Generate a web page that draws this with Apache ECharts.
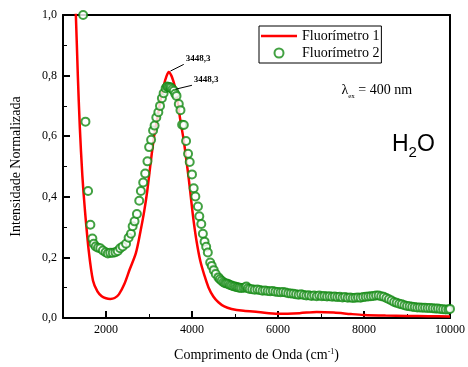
<!DOCTYPE html>
<html><head><meta charset="utf-8">
<script src="https://cdn.jsdelivr.net/npm/echarts@6/dist/echarts.min.js"></script>
<style>html,body{margin:0;padding:0;background:#fff}#c{width:468px;height:367px}</style>
</head><body><div id="c"></div>
<script>
// ---- data ----
const seriesNames = ['Fluorímetro 1', 'Fluorímetro 2'];
const redX = [1260,1299,1345,1391,1450,1506,1600,1698,1800,1900,2000,2100,2200,2300,2427,2550,2696,2800,2888,2960,3041,3118,3194,3270,3348,3400,3460,3520,3570,3617,3680,3732,3808,3870,3924,3980,4039,4110,4192,4290,4384,4500,4614,4750,4920,5200,5535,6000,6500,6900,7300,7700,8000,8500,9000,9500,10000];
const redY = [1.12,1.0,0.8,0.63,0.47,0.363,0.22,0.123,0.088,0.072,0.065,0.063,0.066,0.078,0.112,0.16,0.215,0.285,0.352,0.42,0.515,0.6,0.66,0.72,0.77,0.795,0.812,0.8,0.78,0.755,0.7,0.65,0.586,0.52,0.46,0.39,0.319,0.25,0.189,0.14,0.101,0.07,0.052,0.038,0.03,0.024,0.02,0.014,0.016,0.02,0.018,0.013,0.01,0.008,0.007,0.006,0.005];
const greenX = [1468,1522,1583,1637,1683,1714,1760,1813,1867,1928,1990,2043,2098,2158,2220,2273,2328,2388,2466,2526,2581,2620,2664,2719,2773,2811,2865,2911,2964,3003,3049,3095,3130,3170,3217,3256,3300,3340,3387,3420,3447,3480,3509,3545,3578,3610,3640,3693,3732,3770,3810,3862,3908,3947,4000,4039,4078,4138,4170,4216,4253,4292,4330,4368,4423,4460,4506,4552,4614,4650,4690,4730,4768,4805,4844,4880,4920,4960,4999,5040,5075,5110,5151,5200,5240,5266,5300,5343,5400,5459,5520,5580,5640,5700,5760,5820,5880,5940,6000,6060,6120,6180,6240,6300,6360,6420,6480,6540,6600,6660,6720,6780,6840,6900,6960,7020,7080,7140,7200,7260,7320,7380,7440,7500,7560,7620,7680,7740,7800,7860,7920,7980,8040,8100,8160,8220,8280,8340,8400,8460,8520,8580,8640,8700,8760,8820,8880,8940,9000,9060,9120,9180,9240,9300,9360,9420,9480,9540,9600,9660,9720,9780,9840,9900,9960,10000];
const greenY = [1.0,0.648,0.419,0.308,0.262,0.245,0.236,0.232,0.23,0.223,0.217,0.213,0.215,0.215,0.217,0.221,0.23,0.236,0.245,0.265,0.278,0.303,0.319,0.343,0.387,0.419,0.447,0.477,0.517,0.564,0.588,0.619,0.635,0.662,0.679,0.70,0.725,0.742,0.758,0.764,0.762,0.762,0.76,0.755,0.75,0.74,0.733,0.706,0.686,0.638,0.637,0.584,0.542,0.515,0.474,0.428,0.401,0.368,0.336,0.31,0.278,0.252,0.235,0.216,0.183,0.172,0.158,0.145,0.134,0.128,0.123,0.118,0.115,0.114,0.112,0.109,0.107,0.105,0.104,0.102,0.101,0.1,0.099,0.1,0.101,0.104,0.098,0.096,0.095,0.093,0.094,0.092,0.090,0.091,0.089,0.088,0.089,0.087,0.086,0.085,0.086,0.084,0.082,0.081,0.08,0.078,0.077,0.078,0.076,0.074,0.075,0.073,0.074,0.072,0.074,0.072,0.073,0.071,0.072,0.070,0.071,0.069,0.07,0.068,0.069,0.067,0.068,0.066,0.067,0.068,0.067,0.069,0.07,0.071,0.072,0.073,0.074,0.074,0.072,0.07,0.066,0.062,0.058,0.053,0.05,0.047,0.045,0.042,0.04,0.039,0.037,0.036,0.035,0.035,0.034,0.034,0.033,0.033,0.032,0.031,0.031,0.03,0.029,0.028,0.028,0.03];
const xMajorTicks = [2000,4000,6000,8000,10000];
const xMinorTicks = [3000,5000,7000,9000];
const peakText = '3448,3';
// annotation anchors in data units
const lead1 = [[3499,0.815],[3808,0.837]];
const lead2 = [[3617,0.755],[3999,0.768]];
const label1At = [3854,0.856];
const label2At = [4039,0.786];
const lambdaAt = [8297,0.748];
const waterAt = [9149,0.565];

const SERIF = 'Liberation Serif';
const SANS = 'Liberation Sans';
const pair = (xs, ys) => xs.map((x,i)=>[x, ys[i]]);

const chart = echarts.init(document.getElementById('c'), null, {renderer:'canvas'});
const frameAxis = {show:true, axisLine:{show:true, lineStyle:{color:'#000', width:2}}, axisTick:{show:false}, axisLabel:{show:false}, splitLine:{show:false}};
chart.setOption({
  animation:false,
  backgroundColor:'#fff',
  grid:{left:63, top:15, right:14, bottom:46},
  legend:{
    orient:'vertical', left:259, top:26, padding:[3,2,3,2], itemGap:3,
    borderColor:'#000', borderWidth:1, itemWidth:36, itemHeight:9,
    textStyle:{fontFamily:SERIF, fontSize:14, color:'#000'},
    data:[{name:seriesNames[0], icon:'path://M0,0L36,0L36,2.5L0,2.5Z', itemStyle:{color:'#ff0000'}},
          {name:seriesNames[1], icon:'emptyCircle'}]
  },
  xAxis:[
    {type:'value', position:'bottom', min:1000, max:10000, interval:1000,
     name:'Comprimento de Onda (cm{sup|-1})', nameLocation:'middle', nameGap:30,
     nameTextStyle:{fontFamily:SERIF, fontSize:14, color:'#000', verticalAlign:'top',
       rich:{sup:{fontFamily:SERIF, fontSize:8, verticalAlign:'top', padding:[0,0,6,0]}}},
     axisLine:{lineStyle:{color:'#000', width:2}},
     axisTick:{inside:true, length:7, lineStyle:{width:2, color:'#000'}, customValues:xMajorTicks},
     axisLabel:{fontFamily:SERIF, fontSize:12, color:'#000', margin:6, customValues:xMajorTicks,
       formatter:v=>String(v)},
     splitLine:{show:false}},
    {type:'value', position:'bottom', min:1000, max:10000, interval:1000,
     axisLine:{show:false},
     axisTick:{inside:true, length:4, lineStyle:{width:1, color:'#000'}, customValues:xMinorTicks},
     axisLabel:{show:false}, splitLine:{show:false}},
    Object.assign({type:'value', position:'top', min:1000, max:10000}, frameAxis)
  ],
  yAxis:[
    {type:'value', position:'left', min:0, max:1, interval:0.2,
     name:'Intensidade Normalizada', nameLocation:'middle', nameGap:40,
     nameTextStyle:{fontFamily:SERIF, fontSize:14, color:'#000'},
     axisLine:{show:true, lineStyle:{color:'#000', width:2}},
     axisTick:{show:true, inside:true, length:7, lineStyle:{width:2, color:'#000'}},
     minorTick:{show:true, splitNumber:2, length:4, lineStyle:{width:1, color:'#000'}},
     axisLabel:{fontFamily:SERIF, fontSize:12, color:'#000', margin:6,
       formatter:v=>v.toFixed(1).replace('.', ',')},
     splitLine:{show:false}},
    Object.assign({type:'value', position:'right', min:0, max:1}, frameAxis)
  ],
  series:[
    {name:seriesNames[0], type:'line', xAxisIndex:0, yAxisIndex:0, data:pair(redX, redY),
     symbol:'none', smooth:0.3, lineStyle:{color:'#ff0000', width:2.5}, itemStyle:{color:'#ff0000'},
     clip:true, z:2,
     markLine:{silent:true, symbol:['none','none'], label:{show:false},
       lineStyle:{color:'#000', width:1, type:'solid'},
       data:[[{coord:lead1[0]},{coord:lead1[1]}],[{coord:lead2[0]},{coord:lead2[1]}]]},
     markPoint:{silent:true, symbol:'circle', symbolSize:0.1, itemStyle:{color:'rgba(0,0,0,0)'},
       data:[
        {coord:label1At, label:{show:true, position:'right', distance:0, formatter:peakText, fontFamily:SERIF, fontSize:9, fontWeight:'bold', color:'#000'}},
        {coord:label2At, label:{show:true, position:'right', distance:0, formatter:peakText, fontFamily:SERIF, fontSize:9, fontWeight:'bold', color:'#000'}},
        {coord:lambdaAt, label:{show:true, position:'inside', formatter:'{a|λ}{s|ex}{a| = 400 nm}',
          rich:{a:{fontFamily:SERIF, fontSize:14, color:'#000', verticalAlign:'bottom', padding:[0,0,3,0]},
                s:{fontFamily:SERIF, fontSize:7, color:'#000', verticalAlign:'bottom'}}}},
        {coord:waterAt, label:{show:true, position:'inside', formatter:'{h|H}{n|2}{h|O}',
          rich:{h:{fontFamily:SANS, fontSize:23, color:'#000', verticalAlign:'bottom', padding:[0,0,4,0]},
                n:{fontFamily:SANS, fontSize:15, color:'#000', verticalAlign:'bottom'}}}}
       ]}},
    {name:seriesNames[1], type:'scatter', xAxisIndex:0, yAxisIndex:0, data:pair(greenX, greenY),
     symbol:'emptyCircle', symbolSize:8, itemStyle:{color:'#138a13', borderWidth:1.1}, z:3}
  ]
});
</script></body></html>
